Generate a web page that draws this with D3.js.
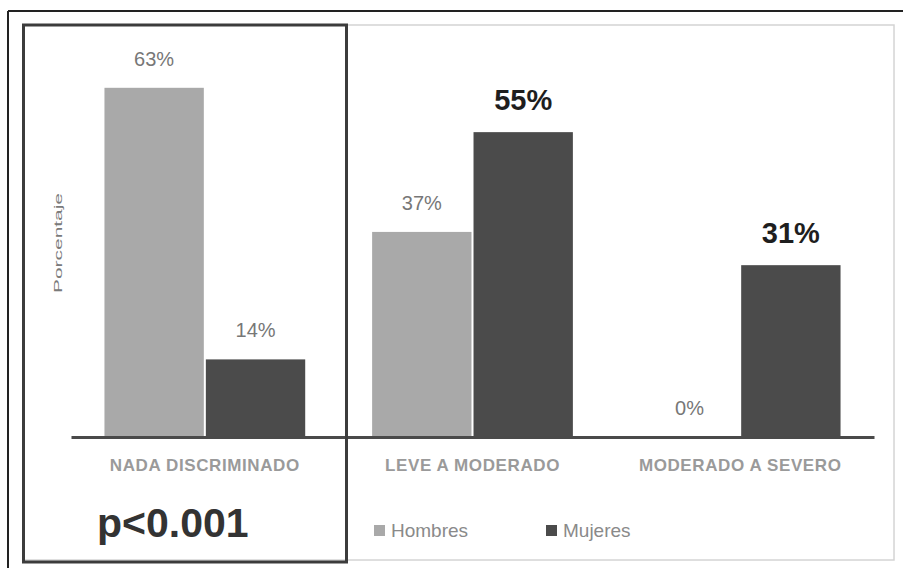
<!DOCTYPE html>
<html>
<head>
<meta charset="utf-8">
<script src="https://cdn.jsdelivr.net/npm/d3@7"></script>
<style>
  html, body { margin: 0; padding: 0; background: #fff; }
  svg { display: block; font-family: "Liberation Sans", Arial, sans-serif; }
</style>
</head>
<body>
<svg id="chart" width="903" height="568"></svg>
<script>
// Grupos de gravedad y porcentaje por sexo
const categories = ["NADA DISCRIMINADO", "LEVE A MODERADO", "MODERADO A SEVERO"];
const seriesNames = ["Hombres", "Mujeres"];
const hombres = [63, 37, 0];
const mujeres = [14, 55, 31];
const seriesColors = ["#a9a9a9", "#4b4b4b"];
const pValue = "p<0.001";
const yTitle = "Porcentaje";

const svg = d3.select("#chart");
const W = 903, H = 568;

// Marco exterior (solo borde superior e izquierdo visibles)
svg.append("line").attr("x1", 8).attr("x2", W).attr("y1", 11).attr("y2", 11)
  .attr("stroke", "#222").attr("stroke-width", 2);
svg.append("line").attr("x1", 8).attr("x2", 8).attr("y1", 11).attr("y2", H)
  .attr("stroke", "#222").attr("stroke-width", 2);

// Área del gráfico
svg.append("rect").attr("x", 23).attr("y", 25).attr("width", 871).attr("height", 535)
  .attr("fill", "#fff").attr("stroke", "#d4d4d4").attr("stroke-width", 1.5);

// Escalas
const x0 = d3.scaleBand().domain(categories).range([71, 874])
  .paddingInner(0.25).paddingOuter(0.125);
const x1 = d3.scaleBand().domain(seriesNames).range([0, x0.bandwidth()]).paddingInner(0.02);
const y = d3.scaleLinear().domain([0, 70]).range([437, 49]);
const color = d3.scaleOrdinal().domain(seriesNames).range(seriesColors);

const rows = categories.map((c, i) => ({
  cat: c,
  values: [
    { key: "Hombres", value: hombres[i], other: mujeres[i] },
    { key: "Mujeres", value: mujeres[i], other: hombres[i] }
  ]
}));

// Se destacan en negrita los porcentajes de mujeres que superan a los de hombres
const isStrong = d => d.key === "Mujeres" && d.value > d.other;

// Barras
const groups = svg.append("g").selectAll("g").data(rows).join("g")
  .attr("transform", d => `translate(${x0(d.cat)},0)`);

groups.selectAll("rect").data(d => d.values).join("rect")
  .attr("x", d => x1(d.key))
  .attr("y", d => y(d.value))
  .attr("width", x1.bandwidth())
  .attr("height", d => y(0) - y(d.value))
  .attr("fill", d => color(d.key));

// Etiquetas de valor
groups.selectAll("text.val").data(d => d.values).join("text")
  .attr("class", "val")
  .attr("x", d => x1(d.key) + x1.bandwidth() / 2)
  .attr("y", d => y(d.value) - 22)
  .attr("text-anchor", "middle")
  .attr("font-size", d => isStrong(d) ? 29 : 20)
  .attr("font-weight", d => isStrong(d) ? "bold" : "normal")
  .attr("fill", d => isStrong(d) ? "#1e1e1e" : "#777")
  .text(d => d.value + "%");

// Eje de categorías
const xAxis = svg.append("g").attr("transform", `translate(0,${y(0)})`)
  .call(d3.axisBottom(x0).tickSize(0).tickPadding(22));
xAxis.select(".domain").attr("stroke", "#4a4a4a").attr("stroke-width", 3);
xAxis.selectAll("text")
  .attr("font-size", 17).attr("font-weight", "bold").attr("fill", "#9a9a9a")
  .attr("letter-spacing", 0.6)
  .attr("font-family", "\"Liberation Sans\", Arial, sans-serif");

// Título del eje Y
svg.append("text")
  .attr("transform", `translate(62,243) rotate(-90)`)
  .attr("text-anchor", "middle")
  .attr("font-size", 11).attr("fill", "#7a7a7a")
  .attr("textLength", 100).attr("lengthAdjust", "spacingAndGlyphs")
  .text(yTitle);

// Recuadro resaltado del primer grupo
svg.append("rect").attr("x", 23.5).attr("y", 25).attr("width", 323).attr("height", 537)
  .attr("fill", "none").attr("stroke", "#3c3c3c").attr("stroke-width", 3);

// Valor p
svg.append("text").attr("x", 97).attr("y", 537)
  .attr("font-size", 41).attr("font-weight", "bold").attr("fill", "#333")
  .text(pValue);

// Leyenda
const legend = svg.append("g").selectAll("g").data(seriesNames).join("g")
  .attr("transform", (d, i) => `translate(${[374, 546][i]},525)`);
legend.append("rect").attr("width", 11).attr("height", 11).attr("fill", d => color(d));
legend.append("text").attr("x", 17).attr("y", 12)
  .attr("font-size", 19).attr("fill", "#8a8a8a")
  .text(d => d);
</script>
</body>
</html>
